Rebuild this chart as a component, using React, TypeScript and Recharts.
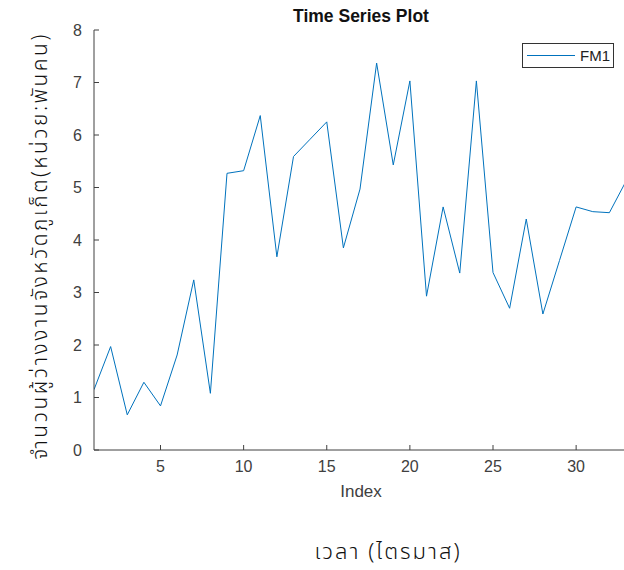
import React from "react";
import { LineChart, Line, XAxis, YAxis } from "recharts";

const indexValues: number[] = [
  1, 2, 3, 4, 5, 6, 7, 8, 9, 10, 11, 12, 13, 14, 15, 16, 17, 18, 19, 20, 21, 22,
  23, 24, 25, 26, 27, 28, 29, 30, 31, 32, 33,
];
const fm1Values: number[] = [
  1.15, 1.97, 0.67, 1.29, 0.84, 1.81, 3.24, 1.08, 5.27, 5.32, 6.37, 3.68, 5.59,
  5.92, 6.25, 3.85, 4.97, 7.37, 5.43, 7.03, 2.93, 4.63, 3.37, 7.03, 3.38, 2.7,
  4.4, 2.59, 3.61, 4.63, 4.54, 4.52, 5.12,
];
const xTicks: number[] = [5, 10, 15, 20, 25, 30];
const yTicks: number[] = [0, 1, 2, 3, 4, 5, 6, 7, 8];

const data = indexValues.map((x, i) => ({ x, FM1: fm1Values[i] }));

const axisColor = "#404040";
const lineColor = "#0072BD";
const latinFont = "'Liberation Sans', Arial, sans-serif";
const thaiFont = "'Noto Sans Thai', 'Leelawadee UI', 'Tahoma', 'DejaVu Sans', sans-serif";

export default function App() {
  return (
    <div
      style={{
        position: "absolute",
        left: 0,
        top: 0,
        width: 624,
        height: 570,
        overflow: "hidden",
        background: "#fff",
        fontFamily: latinFont,
      }}
    >
      <LineChart
        width={640}
        height={570}
        data={data}
        margin={{ top: 30, right: 14, bottom: 60, left: 0 }}
      >
        <XAxis
          dataKey="x"
          type="number"
          domain={[1, 33]}
          ticks={xTicks}
          allowDataOverflow
          height={60}
          stroke={axisColor}
          tickSize={-5}
          tickMargin={16}
          tick={{ fill: axisColor, fontSize: 16, fontFamily: latinFont }}
        />
        <YAxis
          type="number"
          domain={[0, 8]}
          ticks={yTicks}
          width={94}
          stroke={axisColor}
          tickSize={-5}
          tickMargin={17}
          tick={{ fill: axisColor, fontSize: 16, fontFamily: latinFont }}
        />
        <Line
          type="linear"
          dataKey="FM1"
          stroke={lineColor}
          strokeWidth={1}
          dot={false}
          isAnimationActive={false}
        />
      </LineChart>

      <div
        style={{
          position: "absolute",
          left: 361,
          top: 16,
          transform: "translate(-50%, -50%)",
          whiteSpace: "nowrap",
          fontWeight: "bold",
          fontSize: 17.5,
          color: "#111",
        }}
      >
        Time Series Plot
      </div>

      <div
        style={{
          position: "absolute",
          left: 361,
          top: 492,
          transform: "translate(-50%, -50%)",
          whiteSpace: "nowrap",
          fontSize: 17,
          color: axisColor,
        }}
      >
        Index
      </div>

      <div
        style={{
          position: "absolute",
          left: 522,
          top: 43,
          width: 92,
          height: 25,
          border: "1px solid #333",
          background: "#fff",
          boxSizing: "border-box",
          display: "flex",
          alignItems: "center",
        }}
      >
        <div style={{ marginLeft: 4, width: 48, height: 1, background: lineColor }} />
        <div style={{ marginLeft: 5, fontSize: 15, color: "#222" }}>FM1</div>
      </div>

      <div
        style={{
          position: "absolute",
          left: 40,
          top: 246,
          transform: "translate(-50%, -50%) rotate(-90deg)",
          whiteSpace: "nowrap",
          fontSize: 21,
          fontWeight: 300,
          letterSpacing: 2.5,
          fontFamily: thaiFont,
          color: "#111",
        }}
      >
        จำนวนผู้ว่างงานจังหวัดภูเก็ต(หน่วย:พันคน)
      </div>

      <div
        style={{
          position: "absolute",
          left: 388,
          top: 552,
          transform: "translate(-50%, -50%)",
          whiteSpace: "nowrap",
          fontSize: 22,
          fontWeight: 300,
          letterSpacing: 2,
          fontFamily: thaiFont,
          color: "#111",
        }}
      >
        เวลา (ไตรมาส)
      </div>
    </div>
  );
}
